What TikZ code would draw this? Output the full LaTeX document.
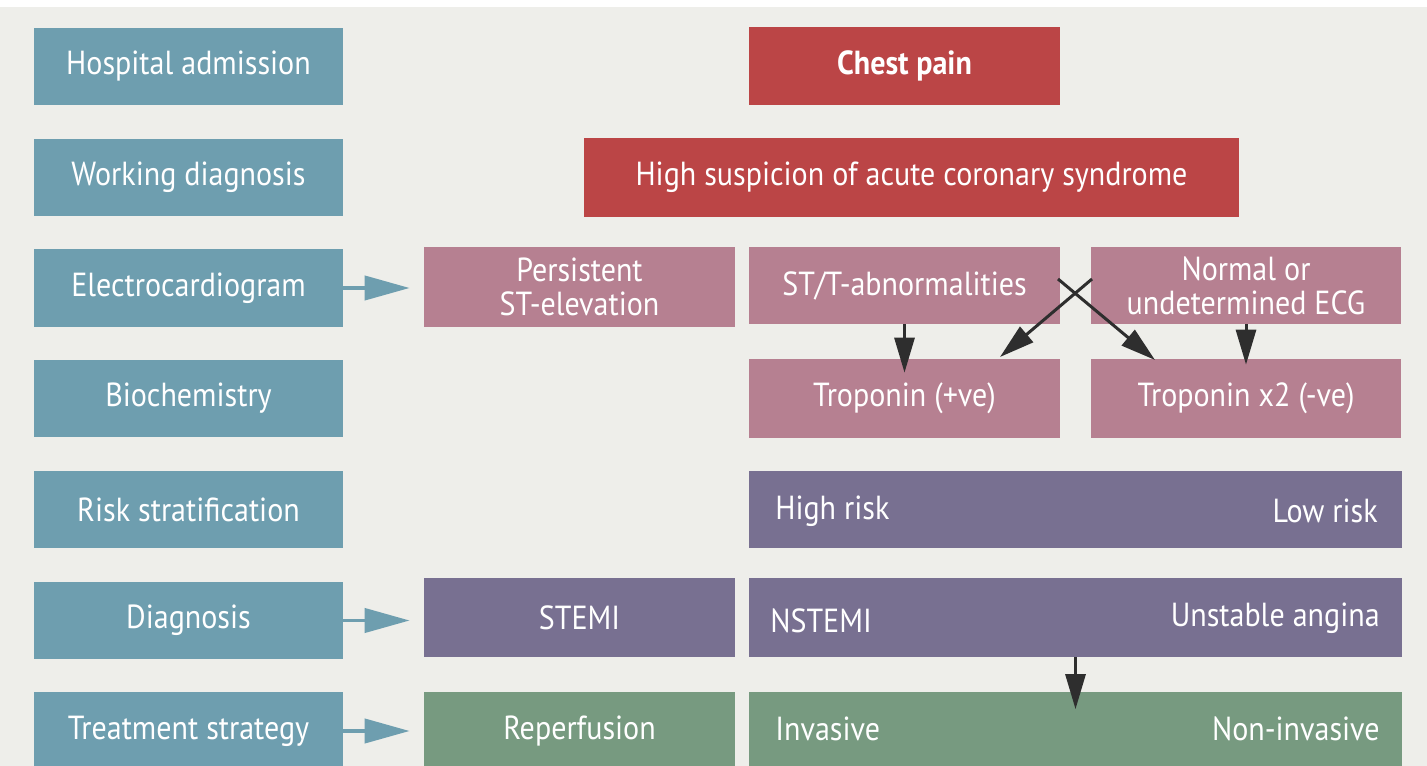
\documentclass[tikz,border=0pt]{standalone}
\usepackage{fontspec}
\setmainfont[FakeStretch=0.9]{PT Sans}
\usetikzlibrary{arrows.meta}
\usetikzlibrary{positioning}

\definecolor{bggray}{HTML}{EEEEEA}
\definecolor{stagecol}{HTML}{6E9EAF}
\definecolor{redcol}{HTML}{BB4546}
\definecolor{pinkcol}{HTML}{B68091}
\definecolor{purplecol}{HTML}{787091}
\definecolor{greencol}{HTML}{779A80}
\definecolor{arrowcol}{HTML}{2E2E2E}

\begin{document}
\begin{tikzpicture}[x=0.02cm,y=-0.02cm,
    every node/.style={inner sep=0pt,text=white,font=\fontsize{19}{19.5}\selectfont},
    stage/.style={fill=stagecol,minimum width=6.18cm,minimum height=1.56cm},
    redbox/.style={fill=redcol,minimum height=1.57cm},
    pinkbox/.style={fill=pinkcol,minimum width=6.22cm,minimum height=1.56cm,align=center},
    purplebox/.style={fill=purplecol,minimum height=1.58cm},
    greenbox/.style={fill=greencol,minimum height=1.58cm},
    stagearrow/.style={draw=stagecol,line width=0.08cm,
        -{Triangle[length=0.9cm,width=0.48cm]},shorten >=0.28cm},
    downarrow/.style={draw=arrowcol,line width=0.06cm,
        -{Triangle[length=0.7cm,width=0.4cm]}}
]
    \useasboundingbox (0,0) rectangle (1427,766);
    \fill[bggray] (0,7) rectangle (1427,766);

    % stages on the left
    \node[stage] (admission) at (188.5,66.5) {Hospital admission};
    \node[stage] (working) at (188.5,177.5) {Working diagnosis};
    \node[stage] (ecg) at (188.5,288) {Electrocardiogram};
    \node[stage] (biochem) at (188.5,398.5) {Biochemistry};
    \node[stage] (risk) at (188.5,509.5) {Risk stratification};
    \node[stage] (diagnosis) at (188.5,620.5) {Diagnosis};
    \node[stage] (treatment) at (188.5,731) {Treatment strategy};

    % pathway
    \node[redbox,minimum width=6.22cm,font=\fontsize{19}{19.5}\selectfont\bfseries]
        (chest) at (904.5,66) {Chest pain};
    \node[redbox,minimum width=13.1cm] (suspicion) at (911.5,177.5)
        {High suspicion of acute coronary syndrome};

    \node[pinkbox,minimum height=1.6cm] (persist) at (579.5,287)
        {Persistent\\ST-elevation};
    \node[pinkbox,minimum height=1.54cm] (stt) at (904.5,285.5)
        {ST/T-abnormalities};
    \node[pinkbox,minimum height=1.54cm] (normal) at (1246,285.5)
        {Normal or\\undetermined ECG};
    \node[pinkbox,minimum height=1.58cm] (tropos) at (904.5,398.5)
        {Troponin (+ve)};
    \node[pinkbox,minimum height=1.58cm] (troneg) at (1246,398.5)
        {Troponin x2 (-ve)};

    \node[purplebox,minimum width=13.06cm,minimum height=1.54cm] (strat) at (1075.5,509.5) {};
    \node[anchor=west] (high) at (775,511) {High risk};
    \node[anchor=east] (low) at (1378,511) {Low risk};

    \node[purplebox,minimum width=6.22cm] (stemi) at (579.5,617.5) {STEMI};
    \node[purplebox,minimum width=13.06cm] (nstemibox) at (1075.5,617.5) {};
    \node[anchor=west] (nstemi) at (770,621) {NSTEMI};
    \node[anchor=east] (unstable) at (1380,618) {Unstable angina};

    \node[greenbox,minimum width=6.22cm] (reperf) at (579.5,731) {Reperfusion};
    \node[greenbox,minimum width=13.06cm] (treat) at (1075.5,731) {};
    \node[anchor=west] (invasive) at (775,729) {Invasive};
    \node[anchor=east] (noninv) at (1380,729) {Non-invasive};

    % connectors
    \draw[stagearrow] (ecg.east) -- (ecg.east -| persist.west);
    \draw[stagearrow] (diagnosis.east) -- (diagnosis.east -| stemi.west);
    \draw[stagearrow] (treatment.east) -- (treatment.east -| reperf.west);

    \coordinate (negin) at (1155,360);
    \coordinate (posin) at (1000,357);
    \coordinate (xleft) at (1058,279);
    \coordinate (xright) at (1092,279);
    \draw[downarrow,shorten >=-0.28cm] (stt.south) -- (tropos.north);
    \draw[downarrow,shorten >=-0.12cm] (normal.south) -- (troneg.north);
    \draw[downarrow] (xleft) -- (negin);
    \draw[downarrow] (xright) -- (posin);
    \draw[downarrow,shorten >=-0.36cm] (nstemibox.south) -- (treat.north);
\end{tikzpicture}
\end{document}
